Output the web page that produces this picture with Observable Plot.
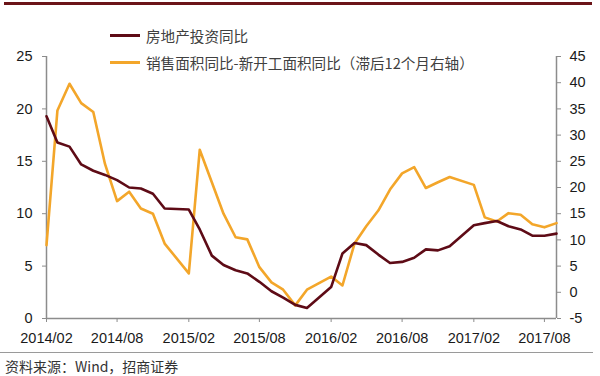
<!DOCTYPE html>
<html>
<head>
<meta charset="utf-8">
<script src="https://cdn.jsdelivr.net/npm/d3@7"></script>
<script src="https://cdn.jsdelivr.net/npm/@observablehq/plot@0.6"></script>
<style>
  html, body { margin: 0; padding: 0; background: #fff; }
  #wrap { position: relative; width: 600px; height: 376px; overflow: hidden; font-family: "Noto Sans CJK SC", "Liberation Sans", sans-serif; }
  #wrap svg { position: absolute; left: 0; top: 0; }
  .topbar { position: absolute; left: 4px; top: 2px; width: 588px; height: 3px; background: #6b1418; }
  .sep { position: absolute; left: 0; top: 352px; width: 593px; height: 1px; background: #9a9a9a; }
  .legend { position: absolute; left: 110px; font-size: 14.6px; color: #404040; display: flex; align-items: center; white-space: nowrap; }
  .legend .sw { width: 30px; height: 3px; margin-right: 6px; }
  .caption { position: absolute; left: 5px; top: 356px; font-size: 14px; color: #333; white-space: nowrap; }
</style>
</head>
<body>
<div id="wrap"></div>
<script>
// Months (YTD data: no separate January points)
const months = [
  "2014-02","2014-03","2014-04","2014-05","2014-06","2014-07","2014-08","2014-09","2014-10","2014-11","2014-12",
  "2015-02","2015-03","2015-04","2015-05","2015-06","2015-07","2015-08","2015-09","2015-10","2015-11","2015-12",
  "2016-02","2016-03","2016-04","2016-05","2016-06","2016-07","2016-08","2016-09","2016-10","2016-11","2016-12",
  "2017-02","2017-03","2017-04","2017-05","2017-06","2017-07","2017-08","2017-09"
];
// 房地产投资同比 (left axis, %)
const investYoY = [
  19.3,16.8,16.4,14.7,14.1,13.7,13.2,12.5,12.4,11.9,10.5,
  10.4,8.5,6.0,5.1,4.6,4.3,3.5,2.6,2.0,1.3,1.0,
  3.0,6.2,7.2,7.0,6.1,5.3,5.4,5.8,6.6,6.5,6.9,
  8.9,9.1,9.3,8.8,8.5,7.9,7.9,8.1
];
// 销售面积同比-新开工面积同比（滞后12个月，右轴, %）
const salesMinusStarts = [
  9.0,34.7,39.8,36.1,34.4,24.5,17.4,19.2,16.0,15.0,9.3,
  3.6,27.2,21.0,15.0,10.5,10.1,4.8,1.9,0.5,-2.5,0.5,
  3.0,1.3,9.3,12.6,15.6,19.6,22.7,23.9,19.9,21.0,22.0,
  20.5,14.3,13.5,15.1,14.8,13.0,12.4,13.2
];
const leftTicks = [0, 5, 10, 15, 20, 25];
const rightTicks = [-5, 0, 5, 10, 15, 20, 25, 30, 35, 40, 45];
const xTickLabels = ["2014/02","2014/08","2015/02","2015/08","2016/02","2016/08","2017/02","2017/08"];
const seriesNames = ["房地产投资同比", "销售面积同比-新开工面积同比（滞后12个月右轴）"];
const seriesColors = ["#5e0b16", "#f3a62a"];
const caption = "资料来源：Wind，招商证券";

const parse = d3.utcParse("%Y-%m");
const parseTick = d3.utcParse("%Y/%m");
// right axis [-5,45] mapped onto left axis [0,25]
const leftDomain = [0, 25], rightDomain = [-5, 45];
const toLeft = r => leftDomain[0] + (r - rightDomain[0]) * (leftDomain[1] - leftDomain[0]) / (rightDomain[1] - rightDomain[0]);
const fromLeft = v => rightDomain[0] + (v - leftDomain[0]) * (rightDomain[1] - rightDomain[0]) / (leftDomain[1] - leftDomain[0]);

const invest = months.map((m, i) => ({date: parse(m), value: investYoY[i]}));
const sales = months.map((m, i) => ({date: parse(m), value: toLeft(salesMinusStarts[i])}));

const font = "Liberation Sans, Arial, sans-serif";
const axisColor = "#8c8c8c";

const chart = Plot.plot({
  width: 600,
  height: 376,
  marginTop: 56,
  marginBottom: 58,
  marginLeft: 46,
  marginRight: 44,
  style: {fontFamily: font, fontSize: "14.5px", color: "#1a1a1a", background: "transparent"},
  x: {type: "utc", domain: [parse("2014-02"), parse("2017-09")]},
  y: {domain: leftDomain},
  marks: [
    Plot.ruleX([parse("2014-02")], {stroke: axisColor, strokeWidth: 1.5}),
    Plot.ruleX([parse("2017-09")], {stroke: axisColor, strokeWidth: 1.5}),
    Plot.ruleY([0], {stroke: axisColor, strokeWidth: 1.5}),
    Plot.axisX({
      ticks: xTickLabels.map(parseTick),
      tickFormat: d3.utcFormat("%Y/%m"),
      tickSize: 4, tickPadding: 10, label: null, stroke: axisColor, fill: "#1a1a1a"
    }),
    Plot.axisY({
      anchor: "left", ticks: leftTicks, tickFormat: d => d,
      tickSize: 4, tickPadding: 10, label: null, stroke: axisColor, fill: "#1a1a1a"
    }),
    Plot.axisY({
      anchor: "right", ticks: rightTicks.map(toLeft), tickFormat: d => Math.round(fromLeft(d)),
      tickSize: 4, tickPadding: 9, label: null, stroke: axisColor, fill: "#1a1a1a"
    }),
    Plot.line(sales, {x: "date", y: "value", stroke: seriesColors[1], strokeWidth: 2.6, curve: "linear"}),
    Plot.line(invest, {x: "date", y: "value", stroke: seriesColors[0], strokeWidth: 2.6, curve: "linear"})
  ]
});

const wrap = document.getElementById("wrap");
wrap.appendChild(chart);

const bar = document.createElement("div"); bar.className = "topbar"; wrap.appendChild(bar);
const sep = document.createElement("div"); sep.className = "sep"; wrap.appendChild(sep);

const legendTops = [25, 52];
seriesNames.forEach((name, i) => {
  const lg = document.createElement("div");
  lg.className = "legend";
  lg.style.top = legendTops[i] + "px";
  lg.style.height = "20px";
  const sw = document.createElement("span");
  sw.className = "sw"; sw.style.background = seriesColors[i];
  const tx = document.createElement("span");
  tx.textContent = name;
  lg.appendChild(sw); lg.appendChild(tx);
  wrap.appendChild(lg);
});

const cap = document.createElement("div");
cap.className = "caption"; cap.textContent = caption;
wrap.appendChild(cap);
</script>
</body>
</html>
